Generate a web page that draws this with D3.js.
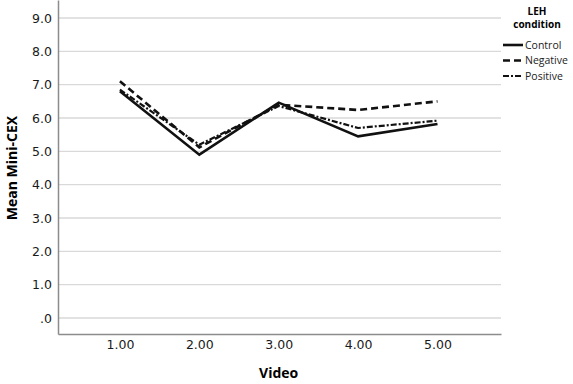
<!DOCTYPE html>
<html>
<head>
<meta charset="utf-8">
<script src="https://cdn.jsdelivr.net/npm/d3@7"></script>
<style>
  body { margin: 0; background: #fff; }
  svg { display: block; }
</style>
</head>
<body>
<svg id="chart" width="573" height="384"></svg>
<script>
// data
const videos = [1, 2, 3, 4, 5]
const control = [6.80, 4.90, 6.46, 5.45, 5.82]
const negative = [7.10, 5.12, 6.40, 6.24, 6.50]
const positive = [6.85, 5.20, 6.36, 5.70, 5.92]
const yTicks = [0, 1, 2, 3, 4, 5, 6, 7, 8, 9]
const seriesNames = ['Control', 'Negative', 'Positive']

const width = 573
const height = 384
const margin = { top: 0, right: 72, bottom: 50, left: 58 }

const svg = d3.select('#chart')

const x = d3.scaleLinear()
  .domain([0.22, 5.8])
  .range([margin.left, width - margin.right])
const y = d3.scaleLinear()
  .domain([-0.48, 9.54])
  .range([height - margin.bottom, margin.top])

// grid lines
svg.append('g')
  .selectAll('line')
  .data(yTicks)
  .enter().append('line')
  .attr('x1', margin.left)
  .attr('x2', width - margin.right)
  .attr('y1', d => y(d))
  .attr('y2', d => y(d))
  .style('stroke', '#d9d9d9')
  .style('stroke-width', 1.3)

// y axis
const yAxis = svg.append('g')
  .attr('transform', `translate(${margin.left},0)`)
  .call(d3.axisLeft(y).tickValues(yTicks).tickSize(0).tickPadding(6)
    .tickFormat(d => d === 0 ? '.0' : d3.format('.1f')(d)))
yAxis.select('.domain').style('stroke', '#8c8c8c').style('stroke-width', 1.5)
yAxis.selectAll('text')
  .style('font-family', 'DejaVu Sans')
  .style('font-size', '12.5px')
  .style('fill', '#1a1a1a')

// x axis
const xAxis = svg.append('g')
  .attr('transform', `translate(0,${height - margin.bottom})`)
  .call(d3.axisBottom(x).tickValues(videos).tickSize(0).tickPadding(6)
    .tickFormat(d3.format('.2f')))
xAxis.select('.domain').style('stroke', '#8c8c8c').style('stroke-width', 1.5)
xAxis.selectAll('text')
  .style('font-family', 'DejaVu Sans')
  .style('font-size', '12.5px')
  .style('fill', '#1a1a1a')

// axis titles
svg.append('text')
  .attr('x', x(3))
  .attr('y', 378)
  .attr('text-anchor', 'middle')
  .style('font-family', 'Open Sans')
  .style('font-weight', 'bold')
  .style('font-size', '14px')
  .text('Video')

svg.append('text')
  .attr('transform', `translate(17,${y(4.5)}) rotate(-90)`)
  .attr('text-anchor', 'middle')
  .style('font-family', 'Open Sans')
  .style('font-weight', 'bold')
  .style('font-size', '14px')
  .text('Mean Mini-CEX')

// lines
const series = [
  { name: seriesNames[0], values: control, dash: null, w: 2.6 },
  { name: seriesNames[1], values: negative, dash: '7,4', w: 2.6 },
  { name: seriesNames[2], values: positive, dash: '6,2,2,2', w: 2.2 }
]

const line = d3.line()
  .x((d, i) => x(videos[i]))
  .y(d => y(d))

svg.append('g')
  .selectAll('path')
  .data(series)
  .enter().append('path')
  .attr('d', d => line(d.values))
  .style('fill', 'none')
  .style('stroke', '#111')
  .style('stroke-width', d => d.w)
  .style('stroke-dasharray', d => d.dash)

// legend
const legend = svg.append('g')
legend.append('text')
  .attr('x', 537)
  .attr('y', 15)
  .attr('text-anchor', 'middle')
  .style('font-family', 'Open Sans')
  .style('font-weight', 'bold')
  .style('font-size', '10px')
  .text('LEH')
legend.append('text')
  .attr('x', 537)
  .attr('y', 28)
  .attr('text-anchor', 'middle')
  .style('font-family', 'Open Sans')
  .style('font-weight', 'bold')
  .style('font-size', '10px')
  .text('condition')

const item = legend.selectAll('.item')
  .data(series)
  .enter().append('g')
  .attr('class', 'item')
  .attr('transform', (d, i) => `translate(503,${45 + i * 15.5})`)
item.append('line')
  .attr('x1', 0)
  .attr('x2', 20)
  .style('stroke', '#111')
  .style('stroke-width', d => d.w)
  .style('stroke-dasharray', d => d.dash)
item.append('text')
  .attr('x', 22)
  .attr('dy', '0.35em')
  .style('font-family', 'Open Sans')
  .style('font-size', '10.5px')
  .style('fill', '#222')
  .text(d => d.name)
</script>
</body>
</html>
